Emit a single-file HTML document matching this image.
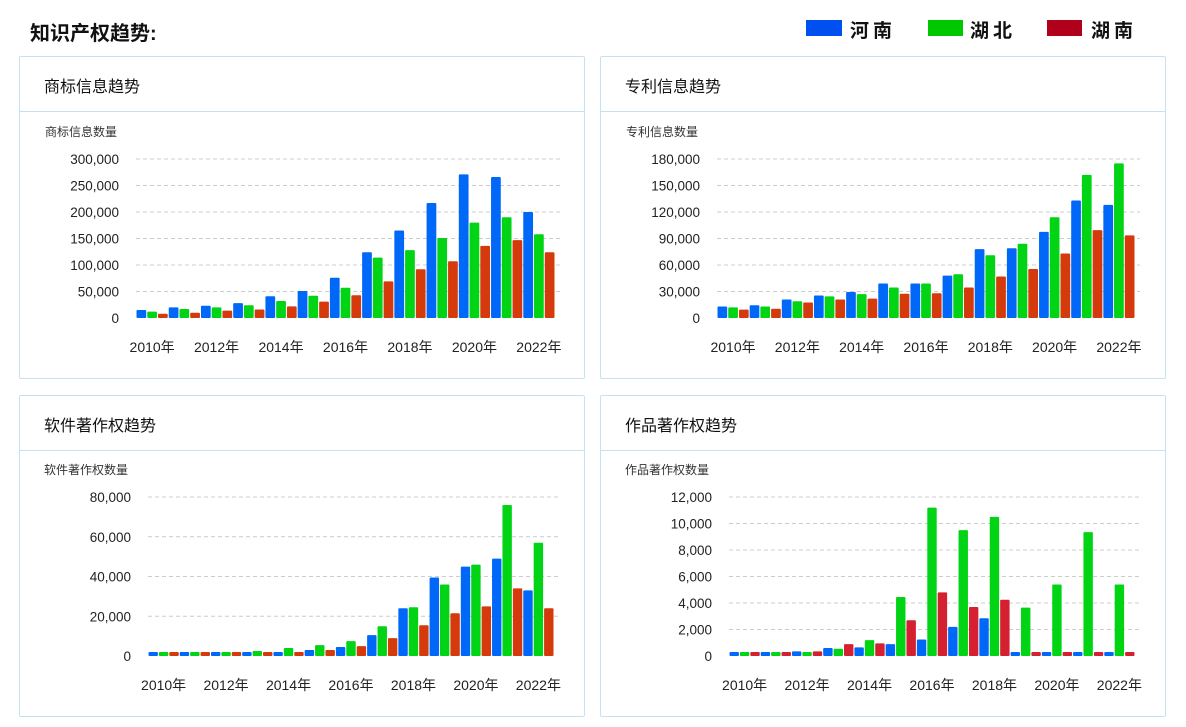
<!DOCTYPE html>
<html><head><meta charset="utf-8">
<style>
body{margin:0;width:1186px;height:727px;background:#fff;font-family:"Liberation Sans","Noto Sans CJK SC",sans-serif;position:relative;overflow:hidden}
.title{position:absolute;left:30px;top:17px;font-size:20px;font-weight:bold;color:#111}
.leg{position:absolute;top:20px;height:16px}
.legt{position:absolute;top:16px;font-size:19px;font-weight:bold;letter-spacing:4px;color:#111}
.panel{position:absolute;border:1px solid #c6e2f0;border-radius:2px;background:#fff}
.ph{position:absolute;left:0;right:0;top:0;height:54px;border-bottom:1px solid #c6e2f0}
.pt{position:absolute;left:24px;top:16px;font-size:16px;color:#111}
svg{position:absolute;left:0;top:0}
</style></head><body>
<div class="title">知识产权趋势:</div>
<div class="leg" style="left:806px;width:36px;background:#0050f0"></div>
<div class="legt" style="left:850px">河南</div>
<div class="leg" style="left:928px;width:35px;background:#00c800"></div>
<div class="legt" style="left:970px">湖北</div>
<div class="leg" style="left:1047px;width:35px;background:#b0001c"></div>
<div class="legt" style="left:1091px">湖南</div>

<div class="panel" style="left:19px;top:56px;width:564px;height:321px"><div class="ph"><div class="pt">商标信息趋势</div></div></div>
<div class="panel" style="left:600px;top:56px;width:564px;height:321px"><div class="ph"><div class="pt">专利信息趋势</div></div></div>
<div class="panel" style="left:19px;top:395px;width:564px;height:320px"><div class="ph"><div class="pt">软件著作权趋势</div></div></div>
<div class="panel" style="left:600px;top:395px;width:564px;height:320px"><div class="ph"><div class="pt">作品著作权趋势</div></div></div>

<svg id="s" width="1186" height="727" xmlns="http://www.w3.org/2000/svg"></svg>
<script>
const years=['2010年','2011年','2012年','2013年','2014年','2015年','2016年','2017年','2018年','2019年','2020年','2021年','2022年'];
const tmHenan=[15000,20000,23000,28000,41000,51000,76000,124000,165000,217000,271000,266000,200000];
const tmHubei=[12000,17000,20000,24000,32000,42000,57000,114000,128000,151000,180000,190000,158000];
const tmHunan=[8000,10000,14000,16000,22000,31000,43000,69000,92000,107000,136000,147000,124000];
const ptHenan=[13000,14500,21000,25500,29500,39000,39000,48000,78000,79000,97500,133000,128000];
const ptHubei=[12000,13000,19000,24500,27000,34500,39000,49500,71000,84000,114000,162000,175000];
const ptHunan=[9500,10500,17500,21000,22000,27500,28000,34500,47000,55500,73000,99500,93500];
const swHenan=[2000,2000,2000,2000,2000,3000,4500,10500,24000,39500,45000,49000,33000];
const swHubei=[2000,2000,2000,2500,4000,5500,7500,15000,24500,36000,46000,76000,57000];
const swHunan=[2000,2000,2000,2000,2000,3000,5000,9000,15500,21500,25000,34000,24000];
const wkHenan=[300,300,350,600,650,900,1250,2200,2850,300,300,300,300];
const wkHubei=[300,300,300,550,1200,4450,11200,9500,10500,3650,5400,9350,5400];
const wkHunan=[300,300,350,900,950,2700,4800,3700,4250,300,300,300,300];
const tmTicks=[0,50000,100000,150000,200000,250000,300000];
const ptTicks=[0,30000,60000,90000,120000,150000,180000];
const swTicks=[0,20000,40000,60000,80000];
const wkTicks=[0,2000,4000,6000,8000,10000,12000];
const svg=document.getElementById('s');
const NS='http://www.w3.org/2000/svg';
function mk(t,a){const e=document.createElementNS(NS,t);for(const k in a)e.setAttribute(k,a[k]);svg.appendChild(e);return e;}
function chart(key,cfg,series,ticks,yname,colors){
  const {x0,x1,y0,y1,lx,nx,ny}=cfg;
  const max=ticks[ticks.length-1];
  const ys=v=>y0-(v/max)*(y0-y1);
  const band=(x1-x0)/years.length;
  const n=mk('text',{x:nx,y:ny,'font-size':12,fill:'#333'});n.textContent=yname;
  
  
  ticks.forEach(t=>{
    const y=ys(t);
    if(t>0){const l=mk('line',{x1:x0,x2:x1+5,y1:y,y2:y,stroke:'#ccc','stroke-dasharray':'4,3'});
      
      }
    const tx=mk('text',{x:lx,y:y+5,'font-size':13.5,fill:'#222','text-anchor':'end'});tx.textContent=t.toLocaleString('en-US');
    
    
  });
  const bw=band/3-1;
  years.forEach((yr,i)=>{
    series.forEach((s,j)=>{
      const v=s[i];const x=x0+i*band+j*(band/3)+0.5;const y=ys(v);
      const r=mk('rect',{x:x,y:y,width:bw,height:y0-y,fill:colors[j],rx:1});
      
      
    });
    if(i%2===0){const t=mk('text',{x:x0+(i+0.5)*band,y:y0+34,'font-size':14,fill:'#222','text-anchor':'middle'});t.textContent=yr;
      
      }
  });
}
const c1=['#0068f8','#00d414','#d43a0c'];
const c2=['#0068f8','#00d414','#d42030'];
chart('trademark',{x0:136,x1:555,y0:318,y1:159,lx:119,nx:45,ny:136},[tmHenan,tmHubei,tmHunan],tmTicks,'商标信息数量',c1);
chart('patent',{x0:717,x1:1135,y0:318,y1:159,lx:700,nx:626,ny:136},[ptHenan,ptHubei,ptHunan],ptTicks,'专利信息数量',c1);
chart('software',{x0:148,x1:554,y0:656,y1:497,lx:131,nx:44,ny:474},[swHenan,swHubei,swHunan],swTicks,'软件著作权数量',c1);
chart('works',{x0:729,x1:1135,y0:656,y1:497,lx:712,nx:625,ny:474},[wkHenan,wkHubei,wkHunan],wkTicks,'作品著作权数量',c2);
</script>
</body></html>
